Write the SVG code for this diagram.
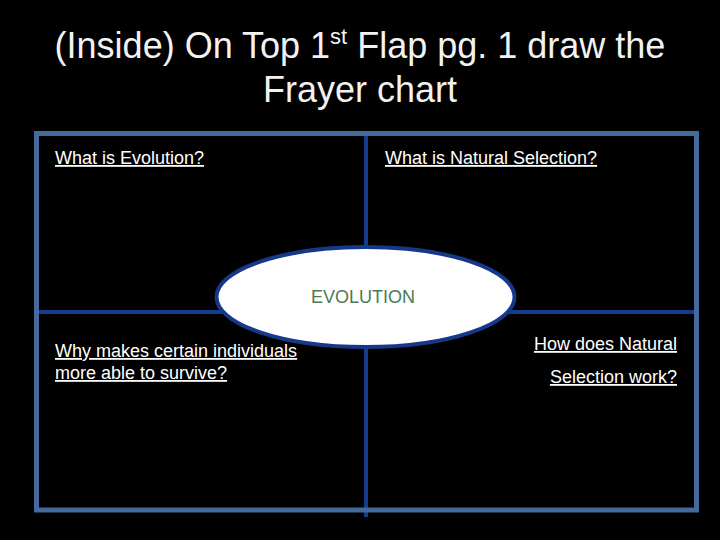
<svg xmlns="http://www.w3.org/2000/svg" width="720" height="540" viewBox="0 0 720 540">
<style>
.title{font-family:"Liberation Sans",Arial,sans-serif;font-size:36px;fill:#f2f2f2}
.lbl{font-family:"Liberation Sans",Arial,sans-serif;font-size:18px;fill:#ffffff;text-decoration:underline}
.inner{stroke:#163c8e;stroke-width:4;fill:none}
.outer{stroke:#44699c;stroke-width:5;fill:none}
</style>
<rect x="0" y="0" width="720" height="540" fill="#000000"/>
<g id="title">
<text class="title" x="360" y="58" text-anchor="middle">(Inside) On Top 1<tspan font-size="22" dy="-14">st</tspan><tspan dy="14"> Flap pg. 1 draw the</tspan></text>
<text class="title" x="360" y="102" text-anchor="middle">Frayer chart</text>
</g>
<g id="connectors">
<line class="inner" x1="366" y1="133" x2="366" y2="517"/>
<line class="inner" x1="36" y1="312" x2="696" y2="312"/>
</g>
<g id="frame">
<rect class="outer" x="36.5" y="133.5" width="660" height="376.5"/>
</g>
<g id="q1"><text class="lbl" x="55" y="164">What is Evolution?</text></g>
<g id="q2"><text class="lbl" x="385" y="164">What is Natural Selection?</text></g>
<g id="q3"><text class="lbl" x="55" y="357">Why makes certain individuals</text><text class="lbl" x="55" y="379">more able to survive?</text></g>
<g id="q4"><text class="lbl" x="677" y="350" text-anchor="end">How does Natural</text><text class="lbl" x="677" y="383" text-anchor="end">Selection work?</text></g>
<g id="center">
<ellipse cx="365.5" cy="297" rx="149" ry="50" fill="#ffffff" stroke="#15388a" stroke-width="4"/>
<text x="363" y="303" text-anchor="middle" font-family="'Liberation Sans',Arial,sans-serif" font-size="18" fill="#4a7a55">EVOLUTION</text>
</g>
</svg>
